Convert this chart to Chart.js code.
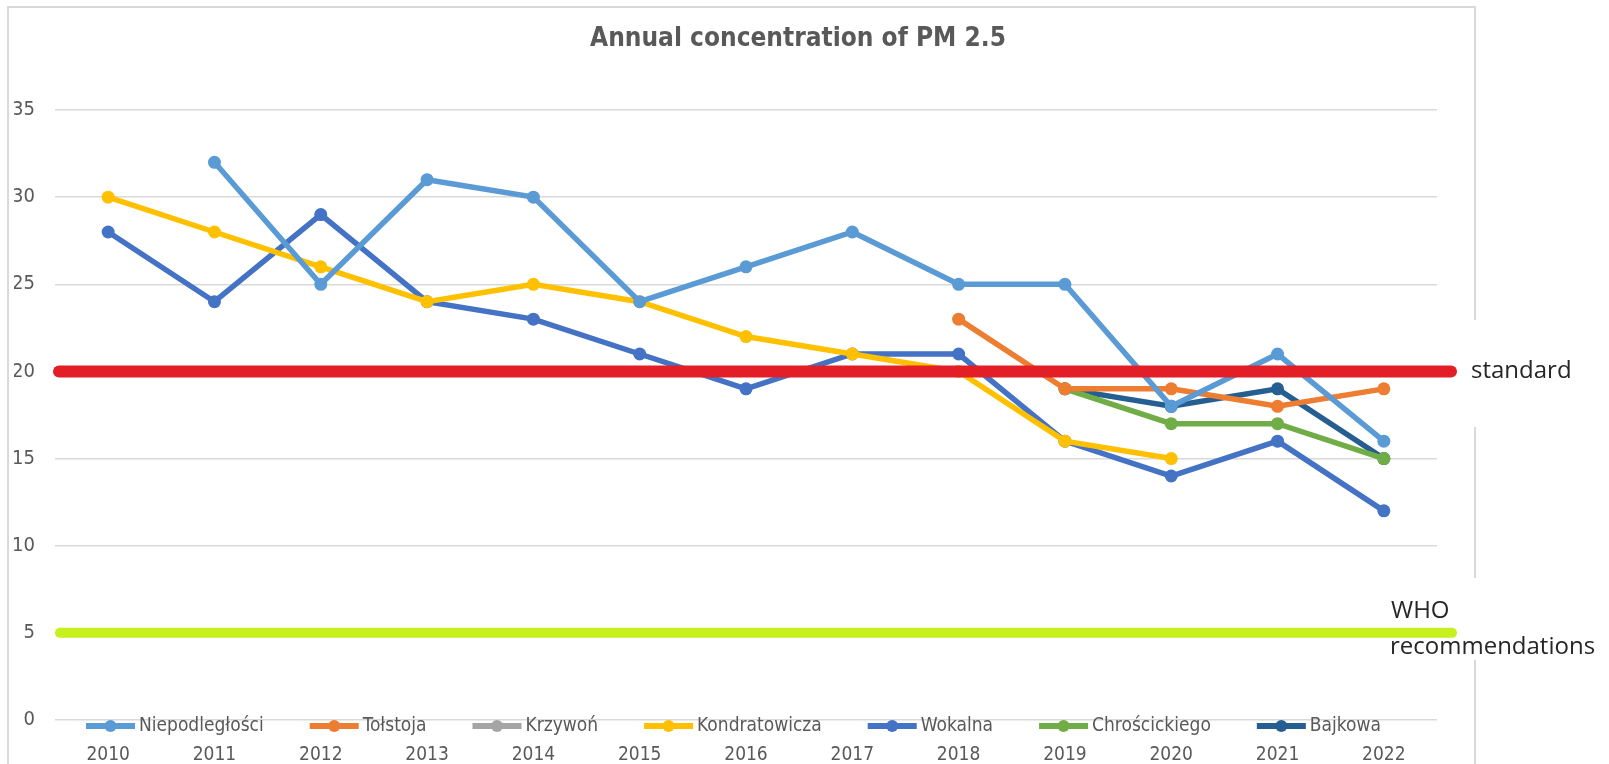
<!DOCTYPE html>
<html lang="en">
<head>
<meta charset="UTF-8">
<title>Annual concentration of PM 2.5</title>
<style>
  body { margin: 0; background: #ffffff; }
  #wrap { width: 1609px; height: 764px; position: relative; }
</style>
</head>
<body>
<div id="wrap"><canvas id="pmChart"></canvas></div>

<script src="https://cdn.jsdelivr.net/npm/chart.js"></script>
<script>
  // chart data
  const years = ['2010', '2011', '2012', '2013', '2014', '2015', '2016', '2017', '2018', '2019', '2020', '2021', '2022'];
  const niepodleglosci = [null, 32, 25, 31, 30, 24, 26, 28, 25, 25, 18, 21, 16];
  const tolstoja = [null, null, null, null, null, null, null, null, 23, 19, 19, 18, 19];
  const krzywon = [null, null, null, null, null, null, null, null, null, null, null, null, null];
  const kondratowicza = [30, 28, 26, 24, 25, 24, 22, 21, 20, 16, 15, null, null];
  const wokalna = [28, 24, 29, 24, 23, 21, 19, 21, 21, 16, 14, 16, 12];
  const chroscickiego = [null, null, null, null, null, null, null, null, null, 19, 17, 17, 15];
  const bajkowa = [null, null, null, null, null, null, null, null, null, 19, 18, 19, 15];
  const seriesNames = ['Niepodległości', 'Tołstoja', 'Krzywoń', 'Kondratowicza', 'Wokalna', 'Chrościckiego', 'Bajkowa'];
  const seriesColors = ['#5B9BD5', '#ED7D31', '#A5A5A5', '#FFC000', '#4472C4', '#70AD47', '#255E91'];
  const yMin = 0, yMax = 35, yStep = 5;
  const standardLimit = 20;
  const whoLimit = 5;

  const narrow = '"DejaVu Sans Condensed", "Liberation Sans Narrow", sans-serif';
  const sans = '"Open Sans", "Noto Sans", sans-serif';

  const allSeries = [niepodleglosci, tolstoja, krzywon, kondratowicza, wokalna, chroscickiego, bajkowa];
  const datasets = allSeries.map((vals, i) => ({
    label: seriesNames[i],
    data: vals,
    borderColor: seriesColors[i],
    backgroundColor: seriesColors[i],
    borderWidth: 5.5,
    pointRadius: 6.5,
    pointHoverRadius: 6.5,
    pointBorderWidth: 0,
    tension: 0
  }));

  // red / green limit lines, they are drawn on top of the series
  const limitLines = {
    id: 'limitLines',
    afterDatasetsDraw(chart) {
      const { ctx, chartArea, scales } = chart;
      ctx.save();
      ctx.lineCap = 'round';
      ctx.strokeStyle = '#E31E26';
      ctx.lineWidth = 12;
      let y = scales.y.getPixelForValue(standardLimit);
      ctx.beginPath();
      ctx.moveTo(chartArea.left + 4, y);
      ctx.lineTo(chartArea.right + 14, y);
      ctx.stroke();

      ctx.strokeStyle = '#C6F01E';
      ctx.lineWidth = 10;
      y = scales.y.getPixelForValue(whoLimit);
      ctx.beginPath();
      ctx.moveTo(chartArea.left + 5, y);
      ctx.lineTo(chartArea.right + 15, y);
      ctx.stroke();
      ctx.restore();
    }
  };

  // frame, title, legend and the line labels
  const decorations = {
    id: 'decorations',
    afterDraw(chart) {
      const { ctx, scales } = chart;
      ctx.save();

      // frame (no bottom edge visible)
      ctx.strokeStyle = '#d9d9d9';
      ctx.lineWidth = 2;
      ctx.beginPath();
      ctx.moveTo(8, 764);
      ctx.lineTo(8, 7);
      ctx.lineTo(1475, 7);
      ctx.lineTo(1475, 764);
      ctx.stroke();
      ctx.fillStyle = '#ffffff';
      ctx.fillRect(1468, 320, 14, 107);
      ctx.fillRect(1468, 578, 14, 82);

      // title
      ctx.fillStyle = '#595959';
      ctx.font = 'bold 26px ' + narrow;
      ctx.textAlign = 'center';
      ctx.textBaseline = 'alphabetic';
      ctx.fillText('Annual concentration of PM 2.5', 798, 46);

      // legend
      ctx.font = '19px ' + narrow;
      ctx.textAlign = 'left';
      ctx.textBaseline = 'middle';
      let x = 86;
      const ly = 726;
      seriesNames.forEach((name, i) => {
        ctx.strokeStyle = seriesColors[i];
        ctx.lineWidth = 6;
        ctx.beginPath();
        ctx.moveTo(x, ly);
        ctx.lineTo(x + 49, ly);
        ctx.stroke();
        ctx.fillStyle = seriesColors[i];
        ctx.beginPath();
        ctx.arc(x + 24.5, ly, 6, 0, Math.PI * 2);
        ctx.fill();
        ctx.fillStyle = '#595959';
        ctx.fillText(name, x + 53, ly);
        x += 53 + ctx.measureText(name).width + 46;
      });

      // limit labels
      ctx.fillStyle = '#262626';
      ctx.font = '24px ' + sans;
      ctx.textBaseline = 'alphabetic';
      const ys = scales.y.getPixelForValue(standardLimit);
      ctx.fillText('standard', 1471, ys + 7);
      ctx.fillText('WHO', 1391, 618);
      ctx.fillText('recommendations', 1390, 654);

      ctx.restore();
    }
  };

  const ctx = document.getElementById('pmChart').getContext('2d');
  const pmChart = new Chart(ctx, {
    type: 'line',
    data: { labels: years, datasets: datasets },
    plugins: [limitLines, decorations],
    options: {
      responsive: true,
      maintainAspectRatio: false,
      animation: false,
      layout: { padding: { left: 14, right: 172, top: 110, bottom: 0 } },
      plugins: {
        legend: { display: false },
        title: { display: false },
        tooltip: { enabled: false }
      },
      scales: {
        x: {
          offset: true,
          grid: { display: false, drawTicks: false },
          border: { display: false },
          ticks: { color: '#595959', font: { family: narrow, size: 19 }, padding: 24, maxRotation: 0 },
          afterFit(scale) { scale.height = 44; }
        },
        y: {
          min: yMin,
          max: yMax,
          grid: { color: '#d9d9d9', lineWidth: 1.5, drawTicks: false },
          border: { display: false },
          ticks: { stepSize: yStep, color: '#595959', font: { family: narrow, size: 20 }, padding: 20 },
          afterFit(scale) { scale.width = 41; }
        }
      }
    }
  });
</script>
</body>
</html>
